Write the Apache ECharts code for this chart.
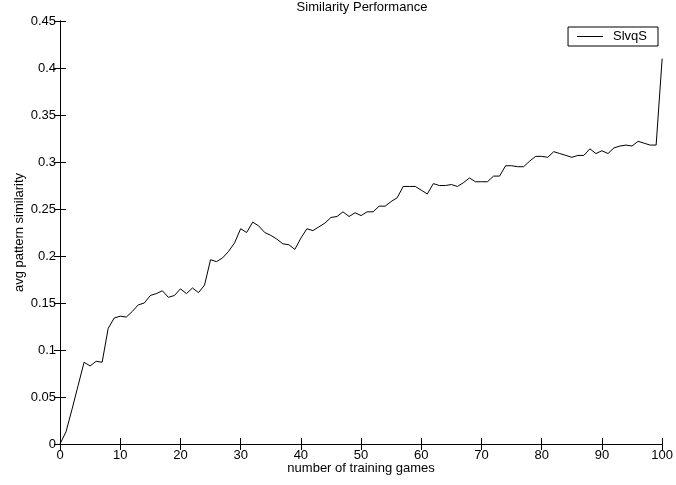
<!DOCTYPE html>
<html>
<head>
<meta charset="utf-8">
<script src="https://cdn.jsdelivr.net/npm/echarts@6/dist/echarts.min.js"></script>
<style>
html,body{margin:0;padding:0;background:#fff;}
#chart{width:676px;height:485px;}
</style>
</head>
<body>
<div id="chart"></div>
<script>
const chartTitle = 'Similarity Performance';
const xAxisName = 'number of training games';
const yAxisName = 'avg pattern similarity';
const seriesName = 'SlvqS';
const similarity = [
  0.0, 0.013, 0.037, 0.062, 0.087, 0.083, 0.088, 0.087, 0.123, 0.134,
  0.136, 0.135, 0.141, 0.148, 0.150, 0.158, 0.160, 0.163, 0.156, 0.158,
  0.165, 0.160, 0.166, 0.161, 0.169, 0.196, 0.194, 0.198, 0.205, 0.214,
  0.229, 0.225, 0.236, 0.232, 0.225, 0.222, 0.218, 0.213, 0.212, 0.207,
  0.219, 0.229, 0.227, 0.231, 0.235, 0.241, 0.242, 0.247, 0.242, 0.246,
  0.243, 0.247, 0.247, 0.253, 0.253, 0.258, 0.262, 0.274, 0.274, 0.274,
  0.270, 0.266, 0.277, 0.275, 0.275, 0.276, 0.274, 0.278, 0.283, 0.279,
  0.279, 0.279, 0.285, 0.285, 0.296, 0.296, 0.295, 0.295, 0.301, 0.306,
  0.306, 0.305, 0.311, 0.309, 0.307, 0.305, 0.307, 0.307, 0.314, 0.309,
  0.312, 0.309, 0.315, 0.317, 0.318, 0.317, 0.322, 0.320, 0.318, 0.318,
  0.41
];
const xTicks = { min: 0, max: 100, interval: 10 };
const yTicks = { min: 0, max: 0.45, interval: 0.05 };

const font = 'Liberation Sans, Arial, Helvetica, sans-serif';
const fs = 13;
const chart = echarts.init(document.getElementById('chart'));
const axisLine = { show: true, lineStyle: { color: '#000', width: 1 } };
const tick = { show: true, inside: true, length: 6, lineStyle: { color: '#000' } };

chart.setOption({
  backgroundColor: '#fff',
  animation: false,
  title: {
    text: chartTitle, left: 362, textAlign: 'center', top: 0, padding: [1, 0, 0, 0],
    textStyle: { fontFamily: font, fontSize: fs, fontWeight: 'normal', color: '#000' }
  },
  legend: {
    data: [seriesName], right: 18, top: 27,
    icon: 'rect',
    backgroundColor: '#fff', borderColor: '#000', borderWidth: 1,
    padding: [3, 11, 3, 9], itemWidth: 26, itemHeight: 1, itemGap: 0,
    textStyle: { fontFamily: font, fontSize: fs, color: '#000', padding: [0, 0, 0, 5] }
  },
  grid: { left: 60, right: 11, top: 21, bottom: 41, containLabel: false },
  xAxis: [{
    type: 'value', min: xTicks.min, max: xTicks.max, interval: xTicks.interval,
    name: xAxisName, nameLocation: 'middle', nameGap: 18, nameMoveOverlap: false,
    nameTextStyle: { fontFamily: font, fontSize: fs, color: '#000' },
    axisLine: axisLine, axisTick: tick, splitLine: { show: false },
    axisLabel: { fontFamily: font, fontSize: fs, color: '#000', margin: 5 }
  }, {
    type: 'value', position: 'top', min: xTicks.min, max: xTicks.max, interval: xTicks.interval,
    axisLine: axisLine, axisTick: tick, splitLine: { show: false }, axisLabel: { show: false }
  }],
  yAxis: [{
    type: 'value', min: yTicks.min, max: yTicks.max, interval: yTicks.interval,
    name: yAxisName, nameLocation: 'middle', nameGap: 34, nameRotate: 90, nameMoveOverlap: false,
    nameTextStyle: { fontFamily: font, fontSize: fs, color: '#000' },
    axisLine: axisLine, axisTick: tick, splitLine: { show: false },
    axisLabel: { fontFamily: font, fontSize: fs, color: '#000', margin: 4 }
  }, {
    type: 'value', position: 'right', min: yTicks.min, max: yTicks.max, interval: yTicks.interval,
    axisLine: axisLine, axisTick: tick, splitLine: { show: false }, axisLabel: { show: false }
  }],
  series: [{
    name: seriesName, type: 'line', symbol: 'none',
    lineStyle: { color: '#000', width: 1 }, itemStyle: { color: '#000' },
    data: similarity.map((v, i) => [i, v])
  }]
});
</script>
</body>
</html>
